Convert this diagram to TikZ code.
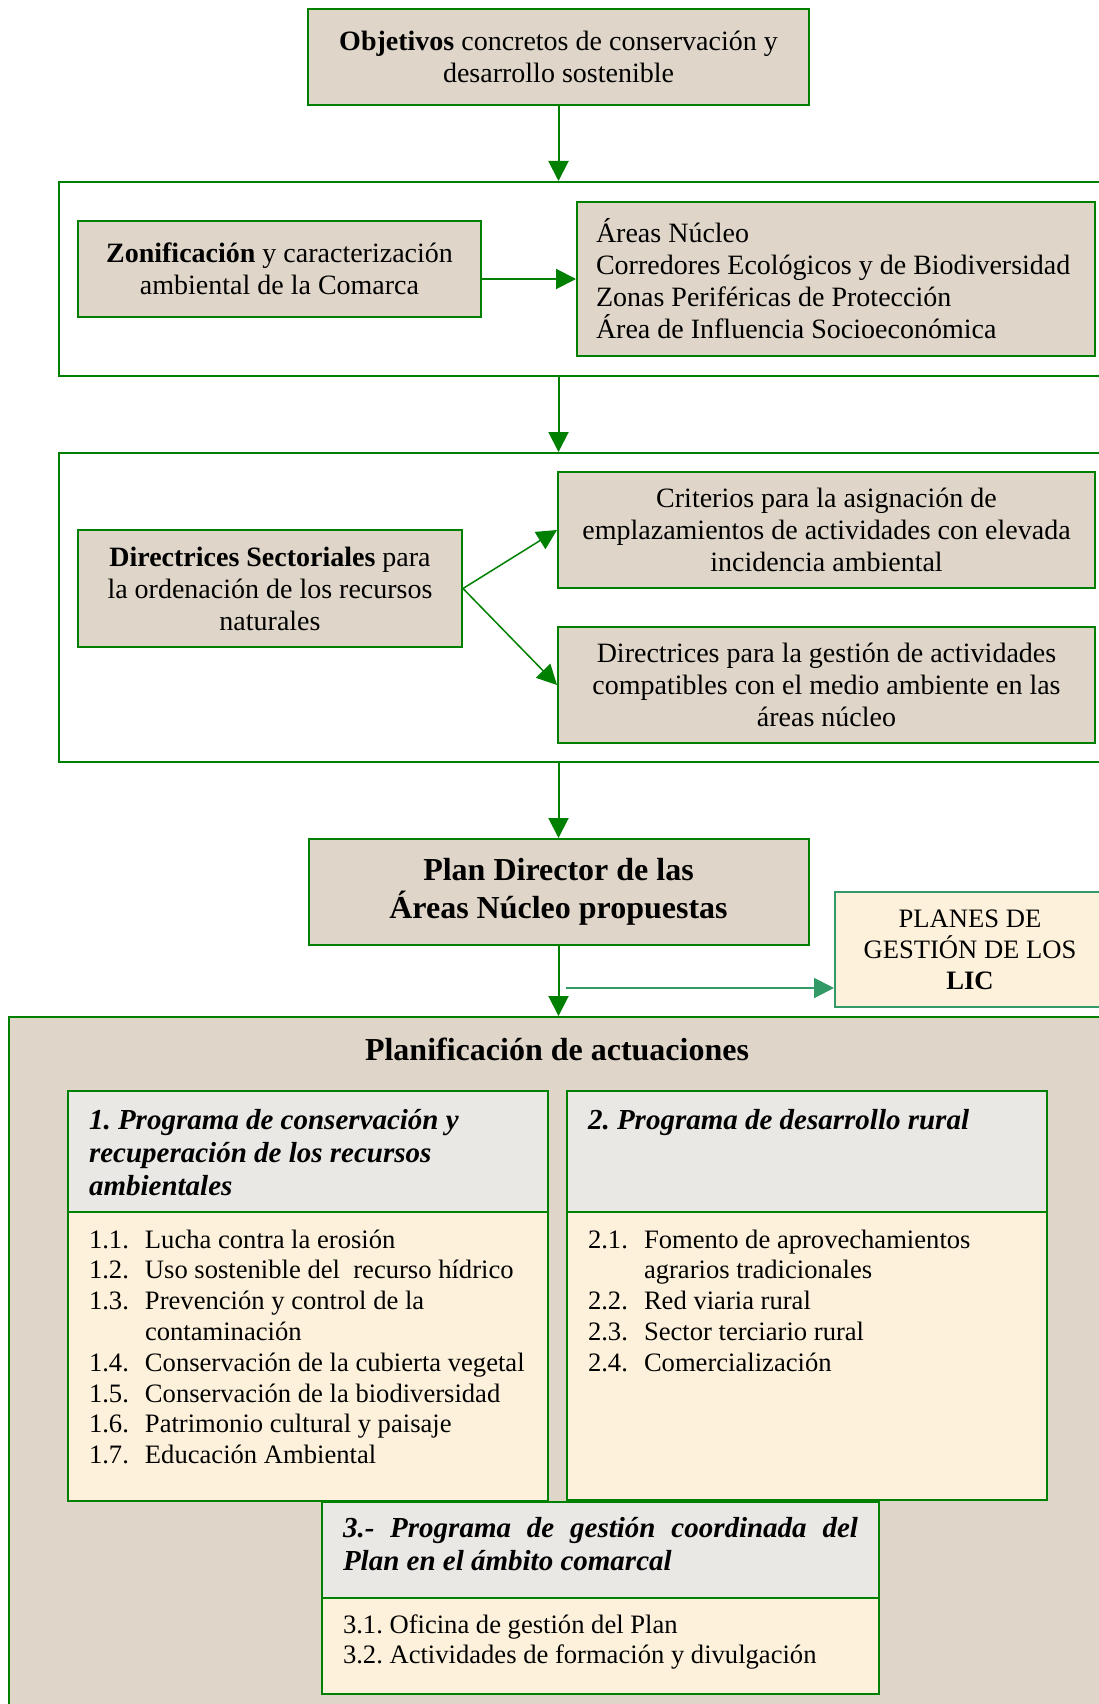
\documentclass[tikz,border=0pt]{standalone}
\usepackage{fontspec}
\setmainfont{Liberation Serif}
\usetikzlibrary{arrows.meta}
\definecolor{verde}{HTML}{008000}
\definecolor{verdemar}{HTML}{339966}
\definecolor{papel}{HTML}{DFD6C9}
\definecolor{granito}{HTML}{EAE8E5}
\definecolor{crema}{HTML}{FDF1DB}
\newcommand{\itm}[2]{\mbox{\makebox[56pt][l]{#1}#2}}
\newcommand{\sigue}[1]{\mbox{\hspace*{56pt}#1}}

\begin{document}
\begin{tikzpicture}[x=1pt,y=-1pt,
  every node/.style={font=\fontsize{28}{32}\selectfont,
    execute at begin node={\spaceskip=\fontdimen2\font\relax\frenchspacing}},
  caja/.style={draw=verde,line width=2pt,fill=papel,inner xsep=10pt,inner ysep=0pt,align=center},
  marco/.style={draw=verde,line width=2pt,fill=white,inner sep=0pt},
  cabecera/.style={draw=verde,line width=2pt,fill=granito,anchor=north west,align=left,
    inner xsep=21pt,inner ysep=8pt,text height=30pt,text depth=75pt,
    font=\fontsize{29}{33}\selectfont\bfseries\itshape},
  cuerpo/.style={draw=verde,line width=2pt,fill=crema,anchor=north west,align=left,
    inner xsep=21pt,inner ysep=6pt,text height=30pt,font=\fontsize{26.6}{30.8}\selectfont},
  flecha/.style={verde,line width=2pt,-{Triangle[width=20pt,length=20pt]}}]
\useasboundingbox (0,0) rectangle (1099,1704);

\node[marco,minimum width=1051pt,minimum height=194pt] (marcozona) at (584.5,279) {};
\node[marco,minimum width=1051pt,minimum height=309pt] (marcodir) at (584.5,607.5) {};
\node[marco,fill=papel,minimum width=1101pt,minimum height=698pt] (marcoplan) at (559.5,1366) {};

\node[caja,text width=481pt,minimum height=96pt] (objetivos) at (558.5,57)
  {\textbf{Objetivos} concretos de conservación y\\ desarrollo sostenible};
\node[caja,text width=383pt,minimum height=96pt] (zonificacion) at (279.5,269)
  {\textbf{Zonificación} y caracterización\\ ambiental de la Comarca};
\node[caja,align=left,inner xsep=19pt,text width=480pt,minimum height=154pt] (areas) at (836,279)
  {Áreas Núcleo\\ \mbox{Corredores Ecológicos y de Biodiversidad}\\ Zonas Periféricas de Protección\\ Área de Influencia Socioeconómica};

\node[caja,text width=364pt,minimum height=117pt] (directrices) at (270,588.5)
  {\textbf{Directrices Sectoriales} para\\ la ordenación de los recursos\\ naturales};
\node[caja,text width=517pt,minimum height=116pt] (criterios) at (826.5,530)
  {Criterios para la asignación de\\ emplazamientos de actividades con elevada\\ incidencia ambiental};
\node[caja,text width=517pt,minimum height=116pt] (gestion) at (826.5,685)
  {Directrices para la gestión de actividades\\ compatibles con el medio ambiente en las\\ áreas núcleo};

\node[caja,text width=480pt,minimum height=106pt,font=\fontsize{32}{38}\selectfont\bfseries] (plandirector) at (558.5,892)
  {Plan Director de las\\ Áreas Núcleo propuestas};
\node[caja,fill=crema,draw=verdemar,text width=250pt,minimum height=115pt,font=\fontsize{26.6}{31}\selectfont] (planes) at (970,949.5)
  {PLANES DE\\ GESTIÓN DE LOS\\ \textbf{LIC}};

\node[font=\fontsize{32}{35}\selectfont\bfseries] (titulo) at (557,1049) {Planificación de actuaciones};

\node[cabecera,text width=438pt] (prog1) at (67,1090)
  {1. Programa de conservación y\\ recuperación de los recursos\\ ambientales};
\node[cuerpo,text width=438pt,text depth=247pt] (lista1) at (67,1211)
  {\itm{1.1.}{Lucha contra la erosión}\\ \itm{1.2.}{Uso sostenible del\ \ recurso hídrico}\\
   \itm{1.3.}{Prevención y control de la}\\ \sigue{contaminación}\\
   \itm{1.4.}{Conservación de la cubierta vegetal}\\ \itm{1.5.}{Conservación de la biodiversidad}\\
   \itm{1.6.}{Patrimonio cultural y paisaje}\\ \itm{1.7.}{Educación Ambiental}};
\node[cabecera,text width=438pt] (prog2) at (566,1090) {2. Programa de desarrollo rural};
\node[cuerpo,text width=438pt,text depth=246pt] (lista2) at (566,1211)
  {\itm{2.1.}{Fomento de aprovechamientos}\\ \sigue{agrarios tradicionales}\\
   \itm{2.2.}{Red viaria rural}\\ \itm{2.3.}{Sector terciario rural}\\ \itm{2.4.}{Comercialización}};
\node[cabecera,text width=515pt,inner ysep=6pt,text height=29pt,text depth=55pt] (prog3) at (321,1501)
  {\makebox[515pt][s]{\spaceskip=0pt 3.- Programa de gestión coordinada del}\\ Plan en el ámbito comarcal};
\node[cuerpo,text width=515pt,text height=29pt,text depth=55pt] (lista3) at (321,1597)
  {3.1. Oficina de gestión del Plan\\ 3.2. Actividades de formación y divulgación};

\draw[flecha] (objetivos.south) -- (objetivos.south |- marcozona.north);
\draw[flecha] (zonificacion.east |- areas.west) -- (areas.west);
\draw[flecha] (objetivos.south |- marcozona.south) -- (objetivos.south |- marcodir.north);
\draw[flecha,line width=1.5pt] (directrices.east) -- (criterios.west);
\draw[flecha,line width=1.5pt] (directrices.east) -- (gestion.west);
\draw[flecha] (objetivos.south |- marcodir.south) -- (plandirector.north);
\draw[flecha] (plandirector.south) -- (plandirector.south |- marcoplan.north);
\coordinate (salida) at (566,988);
\draw[flecha,verdemar] (salida) -- (salida -| planes.west);
\end{tikzpicture}
\end{document}
